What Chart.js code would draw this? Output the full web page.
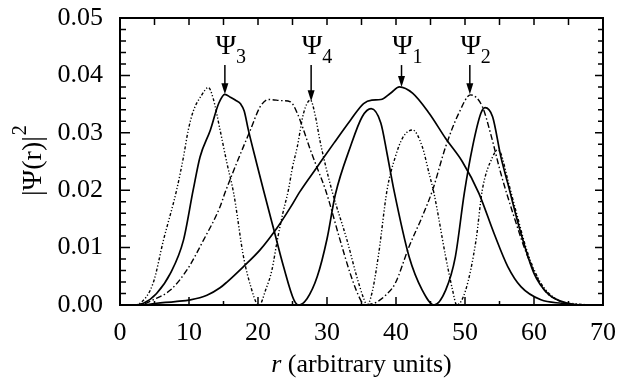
<!DOCTYPE html>
<html>
<head>
<meta charset="utf-8">
<title>|Ψ(r)|² vs r</title>
<script src="https://cdn.jsdelivr.net/npm/chart.js@4"></script>
<style>
  html, body { margin: 0; padding: 0; background: #fff; }
  canvas { display: block; }
</style>
</head>
<body>
<canvas id="chart" width="631" height="381"></canvas>
<script>
// ─── Data ────────────────────────────────────────────────────────────────
const xTicks = [0, 10, 20, 30, 40, 50, 60, 70];
const yTicks = [0.00, 0.01, 0.02, 0.03, 0.04, 0.05];

const psi1X = [0, 3, 5.3, 8, 10.2, 12.6, 14.5, 15.5, 17.9, 20.3, 22.8, 24.7, 26.1, 28.6, 31.0, 33.4, 35.3, 36.5, 37.8, 39.2, 40.5, 42.4, 44.8, 47.2, 49.6, 52.0, 54.2, 56.2, 58.1, 61.0, 64.0, 67, 70];
const psi1Y = [0, 0, 0.0003, 0.0006, 0.0009, 0.0017, 0.0030, 0.0040, 0.0067, 0.0096, 0.0135, 0.0170, 0.0198, 0.0241, 0.0282, 0.0322, 0.0351, 0.0357, 0.0358, 0.0369, 0.0380, 0.0369, 0.0334, 0.0290, 0.0250, 0.0195, 0.0125, 0.0067, 0.0032, 0.0009, 0.0003, 0, 0];

const psi2X = [0, 2.9, 4.8, 7.3, 9.7, 12.1, 14.5, 15.2, 16.9, 18.9, 20.3, 21.5, 23.5, 24.7, 25.7, 26.6, 27.6, 28.7, 29.8, 31.9, 33.5, 34.9, 35.4, 36.2, 37.2, 38.5, 39.9, 41.9, 43.8, 45.3, 47.2, 49.1, 50.8, 52.5, 53.7, 55.2, 57.1, 59.1, 61.5, 63.5, 66, 70];
const psi2Y = [0, 0, 0.0009, 0.0026, 0.0061, 0.0113, 0.0171, 0.0195, 0.0247, 0.0305, 0.0345, 0.0358, 0.0356, 0.0354, 0.0334, 0.0305, 0.0270, 0.0235, 0.0200, 0.0113, 0.0050, 0.0008, 0, 0.0001, 0.0005, 0.0017, 0.0038, 0.0102, 0.0154, 0.0200, 0.0276, 0.0334, 0.0366, 0.0346, 0.0299, 0.0229, 0.0154, 0.0084, 0.0026, 0.0008, 0.0001, 0];

const psi3X = [0, 2, 3.4, 5.3, 7.3, 9.2, 10.6, 11.6, 13.1, 14.3, 15.2, 16.0, 16.7, 17.5, 18.0, 18.6, 19.8, 20.8, 22.3, 23.7, 25.2, 25.9, 27.1, 28.6, 30.0, 31.2, 33.4, 35.1, 36.4, 37.8, 38.7, 39.7, 41.9, 43.8, 45.5, 47.2, 48.6, 49.9, 51.1, 52.3, 52.9, 54.0, 55.2, 56.2, 58.1, 60.0, 62.0, 64.9, 67, 70];
const psi3Y = [0, 0, 0.0003, 0.0020, 0.0055, 0.0113, 0.0200, 0.0258, 0.0305, 0.0351, 0.0367, 0.0362, 0.0357, 0.0350, 0.0338, 0.0305, 0.0247, 0.0200, 0.0131, 0.0067, 0.0009, 0, 0.0011, 0.0050, 0.0115, 0.0192, 0.0276, 0.0328, 0.0342, 0.0317, 0.0264, 0.0200, 0.0084, 0.0026, 0, 0.0026, 0.0084, 0.0195, 0.0276, 0.0334, 0.0344, 0.0328, 0.0258, 0.0212, 0.0125, 0.0055, 0.0020, 0.0003, 0, 0];

const psi4X = [0, 2, 2.9, 4.8, 6.3, 8.2, 9.2, 9.9, 10.6, 11.8, 12.8, 13.5, 14.5, 15.5, 16.5, 17.9, 19.0, 19.8, 20.2, 21.1, 22.0, 22.8, 23.6, 24.4, 25.0, 25.7, 26.6, 27.6, 28.3, 29.0, 30.7, 32.9, 34.3, 35.3, 35.8, 36.5, 37.5, 38.7, 39.9, 41.0, 42.4, 43.8, 44.8, 45.5, 47.2, 48.2, 48.8, 50.1, 51.6, 52.5, 54.0, 54.7, 55.2, 56.2, 57.6, 59.1, 61.0, 63.4, 66, 70];
const psi4Y = [0, 0, 0.0003, 0.0038, 0.0113, 0.0200, 0.0258, 0.0305, 0.0337, 0.0365, 0.0379, 0.0360, 0.0305, 0.0247, 0.0193, 0.0084, 0.0030, 0.0003, 0, 0.0026, 0.0060, 0.0113, 0.0160, 0.0200, 0.0240, 0.0276, 0.0334, 0.0357, 0.0330, 0.0285, 0.0200, 0.0113, 0.0050, 0.0012, 0, 0.0020, 0.0090, 0.0200, 0.0258, 0.0292, 0.0305, 0.0276, 0.0229, 0.0195, 0.0084, 0.0026, 0, 0.0026, 0.0113, 0.0200, 0.0258, 0.0270, 0.0264, 0.0218, 0.0154, 0.0090, 0.0038, 0.0009, 0.0002, 0];

// labels + arrows above the peaks
const peakNames = ['1', '2', '3', '4'];
const peakX = [40.8, 50.7, 15.2, 27.7];
const peakTipY = [0.0380, 0.0367, 0.0367, 0.0355];
const arrowTailY = 0.0418;

// ─── Helpers ─────────────────────────────────────────────────────────────
const SERIF = "'Liberation Serif', 'DejaVu Serif', serif";

function toPoints(xs, ys) {
  return xs.map((x, i) => ({ x, y: ys[i] }));
}

function curve(label, xs, ys, dash, width) {
  return {
    label,
    data: toPoints(xs, ys),
    borderColor: '#000',
    borderWidth: width,
    borderDash: dash,
    pointRadius: 0,
    fill: false,
    cubicInterpolationMode: 'monotone',
  };
}

// ─── Frame, inward ticks, titles, annotations ────────────────────────────
const framePlugin = {
  id: 'frame',
  afterDraw(chart) {
    const { ctx, chartArea: { left, right, top, bottom }, scales: { x, y } } = chart;
    ctx.save();
    ctx.strokeStyle = '#000';
    ctx.fillStyle = '#000';

    // ticks
    ctx.lineWidth = 1.5;
    ctx.beginPath();
    for (let v = 5; v < 70; v += 5) {
      const px = x.getPixelForValue(v);
      const major = v % 10 === 0;
      ctx.moveTo(px, bottom); ctx.lineTo(px, bottom - (major ? 8 : 4));
      ctx.moveTo(px, top); ctx.lineTo(px, top + 7);
    }
    for (let i = 1; i < 25; i++) {
      const py = y.getPixelForValue(i * 0.002);
      const major = i % 5 === 0;
      ctx.moveTo(left, py); ctx.lineTo(left + (major ? 10 : 6), py);
      ctx.moveTo(right, py); ctx.lineTo(right - (major ? 8 : 5), py);
    }
    ctx.stroke();

    // frame
    ctx.lineWidth = 2;
    ctx.strokeRect(left, top, right - left, bottom - top);

    // arrows and Ψ labels
    const tailPx = y.getPixelForValue(arrowTailY);
    peakX.forEach((pxv, i) => {
      const px = x.getPixelForValue(pxv);
      const tip = y.getPixelForValue(peakTipY[i]);
      ctx.lineWidth = 1.5;
      ctx.beginPath();
      ctx.moveTo(px, tailPx);
      ctx.lineTo(px, tip - 8);
      ctx.stroke();
      ctx.beginPath();
      ctx.moveTo(px, tip);
      ctx.lineTo(px - 3.5, tip - 11);
      ctx.lineTo(px + 3.5, tip - 11);
      ctx.closePath();
      ctx.fill();

      ctx.font = `28px ${SERIF}`;
      ctx.textAlign = 'center';
      ctx.textBaseline = 'alphabetic';
      ctx.fillText('Ψ', px + 1, 54);
      ctx.font = `20px ${SERIF}`;
      ctx.textAlign = 'left';
      ctx.fillText(peakNames[i], px + 11, 63);
    });

    // x title: italic r + rest
    ctx.textBaseline = 'alphabetic';
    ctx.textAlign = 'left';
    ctx.font = `italic 26px ${SERIF}`;
    const rW = ctx.measureText('r').width;
    ctx.font = `26px ${SERIF}`;
    const restW = ctx.measureText(' (arbitrary units)').width;
    const cx = (left + right) / 2;
    let sx = cx - (rW + restW) / 2;
    ctx.font = `italic 26px ${SERIF}`;
    ctx.fillText('r', sx, 372);
    ctx.font = `26px ${SERIF}`;
    ctx.fillText(' (arbitrary units)', sx + rW, 372);

    // y title: |Ψ(r)|^2, rotated
    ctx.translate(41, 196);
    ctx.rotate(-Math.PI / 2);
    ctx.font = `28px ${SERIF}`;
    ctx.fillText('|Ψ(r)|', 0, 0);
    const mW = ctx.measureText('|Ψ(r)|').width;
    ctx.font = `20px ${SERIF}`;
    ctx.fillText('2', mW + 1, -15);
    ctx.restore();
  },
};

// ─── Chart ───────────────────────────────────────────────────────────────
const zeroPad = (scale) => {
  scale.paddingTop = 0; scale.paddingBottom = 0;
  scale.paddingLeft = 0; scale.paddingRight = 0;
};

new Chart(document.getElementById('chart'), {
  type: 'line',
  data: {
    datasets: [
      curve('Ψ1', psi1X, psi1Y, [], 1.7),
      curve('Ψ2', psi2X, psi2Y, [6, 2.5, 1.5, 2.5], 1.4),
      curve('Ψ3', psi3X, psi3Y, [], 1.7),
      curve('Ψ4', psi4X, psi4Y, [3, 2, 1.2, 2, 1.2, 2], 1.4),
    ],
  },
  options: {
    responsive: false,
    devicePixelRatio: 1,
    animation: false,
    layout: { padding: { top: 18, right: 28, left: 0, bottom: 0 } },
    plugins: { legend: { display: false }, tooltip: { enabled: false } },
    scales: {
      x: {
        type: 'linear',
        min: 0, max: 70,
        grid: { display: false, drawTicks: false },
        border: { display: false },
        afterBuildTicks: (s) => { s.ticks = xTicks.map((v) => ({ value: v })); },
        ticks: {
          color: '#000', padding: 13, maxRotation: 0, autoSkip: false,
          font: { family: SERIF, size: 26 },
          callback: (v) => String(v),
        },
        afterFit: (s) => { s.height = 76; zeroPad(s); },
      },
      y: {
        type: 'linear',
        min: 0, max: 0.05,
        grid: { display: false, drawTicks: false },
        border: { display: false },
        afterBuildTicks: (s) => { s.ticks = yTicks.map((v) => ({ value: v })); },
        ticks: {
          color: '#000', padding: 17, autoSkip: false,
          font: { family: SERIF, size: 26 },
          callback: (v) => v.toFixed(2),
        },
        afterFit: (s) => { s.width = 120; zeroPad(s); },
      },
    },
  },
  plugins: [framePlugin],
});
</script>
</body>
</html>
